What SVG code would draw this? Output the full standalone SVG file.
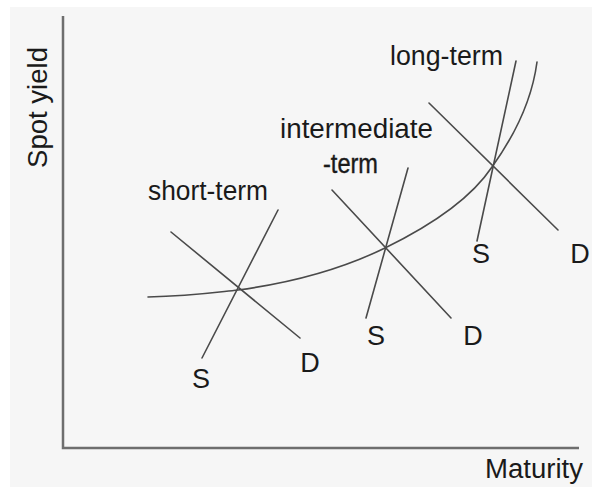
<svg xmlns="http://www.w3.org/2000/svg" width="598" height="494" viewBox="0 0 598 494">
<style>
.ln{stroke:#4a4a4a;stroke-width:1.6;fill:none;stroke-linecap:round}
.ax{stroke:#6e6e6e;stroke-width:2.5;fill:none}
.t{font-family:"Liberation Sans",Arial,sans-serif;fill:#1a1a1a;font-size:27px}
</style>
<rect x="0" y="0" width="598" height="494" fill="#ffffff"/>
<rect x="10" y="7" width="582" height="480" fill="#f6f6f6"/>
<g id="axes">
<path class="ax" d="M63,16 V448 H579"/>
<text class="t" x="485" y="478" textLength="98" lengthAdjust="spacingAndGlyphs">Maturity</text>
<text class="t" transform="translate(47,168) rotate(-90)" textLength="121" lengthAdjust="spacingAndGlyphs">Spot yield</text>
</g>
<g id="yield-curve">
<path class="ln" d="M148,297 C190,296 210,293 238,290 C290,283 340,270 385,248 C430,226 470,200 492,167 C515,135 532,100 537,62"/>
</g>
<g id="connectors">
<line class="ln" x1="278" y1="210" x2="202" y2="358"/>
<line class="ln" x1="171" y1="232" x2="300" y2="338"/>
<line class="ln" x1="408" y1="168" x2="366" y2="318"/>
<line class="ln" x1="332" y1="190" x2="451" y2="318"/>
<line class="ln" x1="516" y1="61" x2="477" y2="241"/>
<line class="ln" x1="429" y1="103" x2="558" y2="230"/>
</g>
<g id="short-term">
<text class="t" x="148" y="200" textLength="120" lengthAdjust="spacingAndGlyphs">short-term</text>
<text class="t" x="201" y="388" text-anchor="middle" font-size="25">S</text>
<text class="t" x="310" y="372" text-anchor="middle" font-size="25">D</text>
</g>
<g id="intermediate-term">
<text class="t" x="280" y="138" textLength="153" lengthAdjust="spacingAndGlyphs" font-size="26">intermediate</text>
<text class="t" x="323" y="173" textLength="55" lengthAdjust="spacingAndGlyphs" font-size="24" stroke="#1a1a1a" stroke-width="0.4">-term</text>
<text class="t" x="376" y="345" text-anchor="middle" font-size="25">S</text>
<text class="t" x="473" y="345" text-anchor="middle" font-size="25">D</text>
</g>
<g id="long-term">
<text class="t" x="390" y="65" textLength="113" lengthAdjust="spacingAndGlyphs">long-term</text>
<text class="t" x="481" y="263" text-anchor="middle" font-size="25">S</text>
<text class="t" x="580" y="263" text-anchor="middle" font-size="25">D</text>
</g>
</svg>
